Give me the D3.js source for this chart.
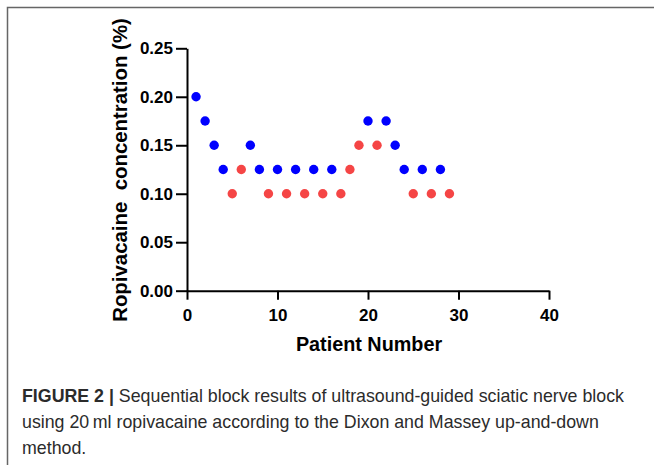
<!DOCTYPE html>
<html>
<head>
<meta charset="utf-8">
<script src="https://cdn.jsdelivr.net/npm/d3@7"></script>
<style>
  html, body { margin: 0; padding: 0; background: #fff; }
  svg { display: block; }
</style>
</head>
<body>
<svg class="chart" width="654" height="465"></svg>
<script>
var patients = [1, 2, 3, 4, 5, 6, 7, 8, 9, 10, 11, 12, 13, 14, 15, 16, 17, 18, 19, 20, 21, 22, 23, 24, 25, 26, 27, 28, 29];
var concentration = [0.200, 0.175, 0.150, 0.125, 0.100, 0.125, 0.150, 0.125, 0.100, 0.125,
                     0.100, 0.125, 0.100, 0.125, 0.100, 0.125, 0.100, 0.125, 0.150, 0.175,
                     0.150, 0.175, 0.150, 0.125, 0.100, 0.125, 0.100, 0.125, 0.100];
// E = effective block (blue), F = failed block (red)
var outcome = ["E", "E", "E", "E", "F", "F", "E", "E", "F", "E",
               "F", "E", "F", "E", "F", "E", "F", "F", "F", "E",
               "F", "E", "E", "E", "F", "E", "F", "E", "F"];
var xTicks = [0, 10, 20, 30, 40];
var yTicks = [0, 0.05, 0.10, 0.15, 0.20, 0.25];
var captionLines = [
    ["FIGURE 2 |", " Sequential block results of ultrasound-guided sciatic nerve block"],
    ["", "using 20\u2009ml ropivacaine according to the Dixon and Massey up-and-down"],
    ["", "method."]
];

var svg = d3.select(".chart");
var font = "'Liberation Sans', Arial, Helvetica, sans-serif";

// frame (cut off on the right and at the bottom)
svg.append("path")
    .attr("d", "M7.5,465V7.5H654")
    .attr("fill", "none")
    .attr("stroke", "#666")
    .attr("stroke-width", 1.5);

var xScale = d3.scaleLinear().domain([0, 40]).range([187, 549]);
var yScale = d3.scaleLinear().domain([0, 0.25]).range([290.7, 48.3]);

var gx = svg.append("g")
    .attr("transform", "translate(0," + yScale(0) + ")")
    .call(d3.axisBottom(xScale).tickValues(xTicks).tickSize(9).tickSizeOuter(0).tickPadding(9));

var gy = svg.append("g")
    .attr("transform", "translate(" + xScale(0) + ",0)")
    .call(d3.axisLeft(yScale).tickValues(yTicks).tickFormat(d3.format(".2f")).tickSize(11).tickSizeOuter(0).tickPadding(3));

[gx, gy].forEach(function(g) {
    g.selectAll("path, line").attr("stroke", "#000").attr("stroke-width", 2);
    g.selectAll("text")
        .attr("fill", "#000")
        .style("font-family", font)
        .style("font-weight", "bold")
        .style("font-size", "17px");
});

svg.append("text")
    .attr("x", 369)
    .attr("y", 351)
    .attr("text-anchor", "middle")
    .style("font-family", font)
    .style("font-weight", "bold")
    .style("font-size", "19.8px")
    .text("Patient Number");

svg.append("text")
    .attr("transform", "translate(127,170) rotate(-90)")
    .attr("text-anchor", "middle")
    .style("font-family", font)
    .style("font-weight", "bold")
    .style("font-size", "20.4px")
    .style("white-space", "pre")
    .text("Ropivacaine  concentration (%)");

svg.append("g").selectAll("circle")
    .data(patients)
    .enter()
    .append("circle")
    .attr("cx", function(d) { return xScale(d); })
    .attr("cy", function(d, i) { return yScale(concentration[i]); })
    .attr("r", 4.7)
    .attr("fill", function(d, i) { return outcome[i] == "E" ? "#0000ff" : "#f54545"; });

var cap = svg.append("g")
    .style("font-family", font)
    .style("font-size", "17.8px")
    .attr("fill", "#2b2b2b");

captionLines.forEach(function(line, i) {
    var t = cap.append("text")
        .attr("x", 22)
        .attr("y", 401.7 + i * 26)
        .style("white-space", "pre");
    if (line[0]) t.append("tspan").style("font-weight", "bold").text(line[0]);
    t.append("tspan").text(line[1]);
});
</script>
</body>
</html>
